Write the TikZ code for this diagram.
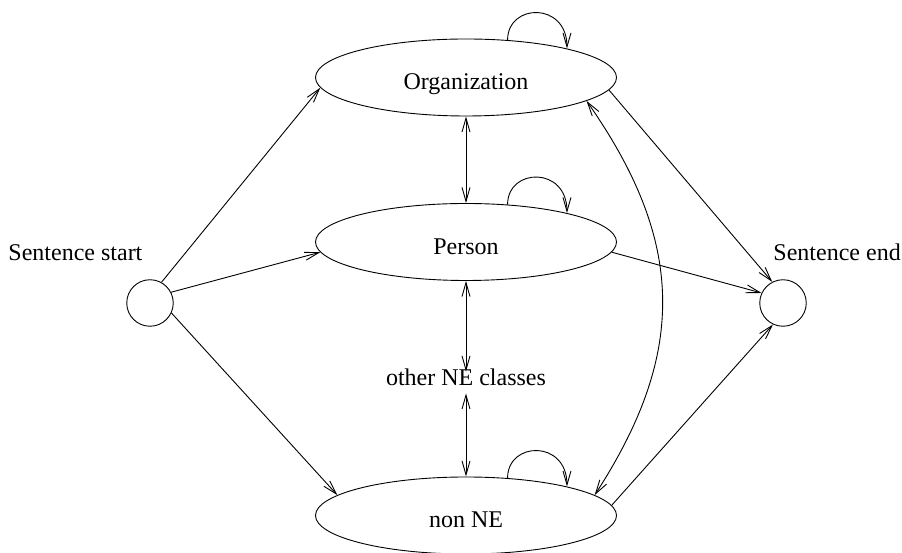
\documentclass[tikz,border=0pt]{standalone}
\usepackage{fontspec}
\setmainfont{Liberation Serif}
\usetikzlibrary{arrows.meta,shapes.geometric}
\begin{document}
\begin{tikzpicture}[x=1pt,y=1pt,
  every node/.style={font=\fontsize{24}{28}\selectfont},
  state/.style={draw, ellipse, minimum width=301pt, minimum height=77pt,
                inner sep=0pt, text height=27pt, text depth=2pt},
  term/.style={draw, circle, minimum size=46.5pt, inner sep=0pt},
  tip/.tip={Straight Barb[length=14pt,width=8pt]},
  arr/.style={-tip},
  darr/.style={tip-tip},
  line width=0.9pt]
\useasboundingbox (0,0) rectangle (902,553);

% states
\node[state] (org) at (466,475.5) {Organization};
\node[state] (per) at (466,311)   {Person};
\node[state] (non) at (466,37.5)  {non NE};
\node[inner sep=0pt, text height=14pt, text depth=7pt] (oth) at (466,170.5) {other NE classes};

% sentence boundaries
\node[term] (s) at (150,250) {};
\node[term] (e) at (783,250) {};
\node[anchor=base west, inner sep=0pt] (slab) at (8,292)   {Sentence start};
\node[anchor=base west, inner sep=0pt] (elab) at (773,292) {Sentence end};

% transitions from the start
\draw[arr] (s.61.5) -- (org.184.2);
\draw[arr] (s.27)   -- (per.184);
\draw[arr] (s.-25)  -- (non.171);

% transitions to the end
\draw[arr] (org.-5) -- (e.117);
\draw[arr] (per.-4) -- (e.155);
\draw[arr] (non.4)  -- (e.245);

% transitions between classes
\draw[darr] (org.south) -- (per.north);
\draw[darr] (per.south) -- (oth.north);
\draw[darr] (oth.south) -- (non.north);
\draw[darr] (org.-11.5) .. controls +(-55:171) and +(57:171) .. (non.9.5);

% self loops
\foreach \n in {org,per,non}
  \draw[arr] (\n.42) .. controls +(90:37) and +(90:47) .. (\n.16);
\end{tikzpicture}
\end{document}
